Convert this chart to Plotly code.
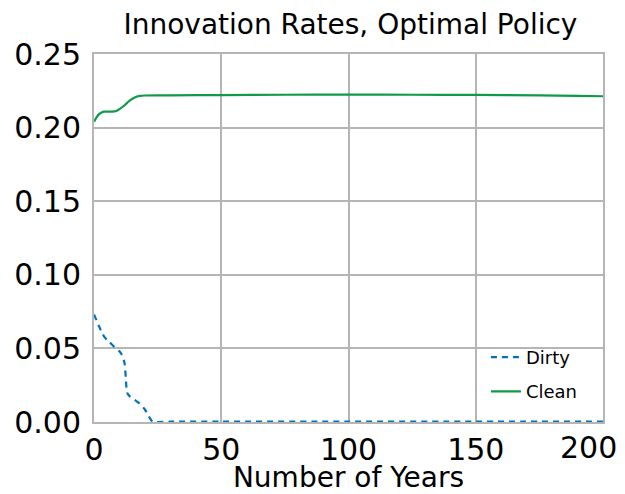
import plotly.graph_objects as go

years_clean = [0, 1, 2, 3, 4, 6, 8, 9, 10, 12, 14, 16, 18, 20, 25, 30, 50, 75, 100, 125, 150, 175, 190, 200]
clean = [0.2040, 0.2070, 0.2092, 0.2103, 0.2108, 0.2108, 0.2110, 0.2115, 0.2125, 0.2152, 0.2183, 0.2205, 0.2215, 0.2218, 0.2219, 0.2219, 0.2221, 0.2223, 0.2224, 0.2223, 0.2222, 0.2219, 0.2216, 0.2213]

years_dirty = [0, 1, 2, 3, 4, 5, 6, 8, 10, 11, 12, 12.5, 13, 14, 16, 18, 20, 21, 22, 23, 30, 50, 100, 150, 200]
dirty = [0.0730, 0.0690, 0.0650, 0.0610, 0.0580, 0.0560, 0.0545, 0.0510, 0.0480, 0.0455, 0.0400, 0.0300, 0.0200, 0.0175, 0.0150, 0.0125, 0.0085, 0.0055, 0.0025, 0.0003, 0.0002, 0.0002, 0.0002, 0.0002, 0.0002]

x_ticks = [0, 50, 100, 150]
x_last_tick = 200
y_ticks = [0.00, 0.05, 0.10, 0.15, 0.20, 0.25]

FONT = "DejaVu Sans"
GRID = "#b5b5b5"

fig = go.Figure()
fig.add_trace(go.Scatter(x=years_dirty, y=dirty, mode="lines", name="Dirty", legendgroup="d",
                         line=dict(color="#0072bd", width=2.2, dash="6px,5px", shape="spline", smoothing=0.6)))
fig.add_trace(go.Scatter(x=years_clean, y=clean, mode="lines", name="Clean", legendgroup="c",
                         line=dict(color="#0f9a48", width=2.2, shape="spline", smoothing=0.6)))

fig.update_layout(
    width=617, height=486,
    margin=dict(l=86, r=22, t=46, b=72),
    paper_bgcolor="white", plot_bgcolor="white",
    font=dict(family=FONT, color="black"),
    title=dict(text="Innovation Rates, Optimal Policy", x=0.555, xanchor="center",
               y=0.967, yanchor="middle", font=dict(size=28, family=FONT)),
    xaxis=dict(range=[0, 200], tickvals=x_ticks, showgrid=True, gridcolor=GRID, gridwidth=2,
               showline=True, linecolor=GRID, linewidth=2, mirror=True, zeroline=False,
               ticks="", tickfont=dict(size=30), automargin=False,
               title=dict(text="Number of Years", font=dict(size=28), standoff=0)),
    yaxis=dict(range=[0, 0.25], tickvals=y_ticks, tickformat=".2f", showgrid=True, gridcolor=GRID,
               gridwidth=2, showline=True, linecolor=GRID, linewidth=2, mirror=True, zeroline=False,
               ticks="", tickfont=dict(size=30), automargin=False, ticklabelstandoff=5),
    legend=dict(x=0.77, y=0.226, xanchor="left", yanchor="top", bgcolor="rgba(0,0,0,0)",
                font=dict(size=18), tracegroupgap=8),
    showlegend=True,
)

fig.add_annotation(x=x_last_tick, y=0, xref="x", yref="paper", text=str(x_last_tick),
                   showarrow=False, xanchor="center", yanchor="top", xshift=-15, yshift=-6,
                   font=dict(size=30, family=FONT))

fig.write_html("out.html")
